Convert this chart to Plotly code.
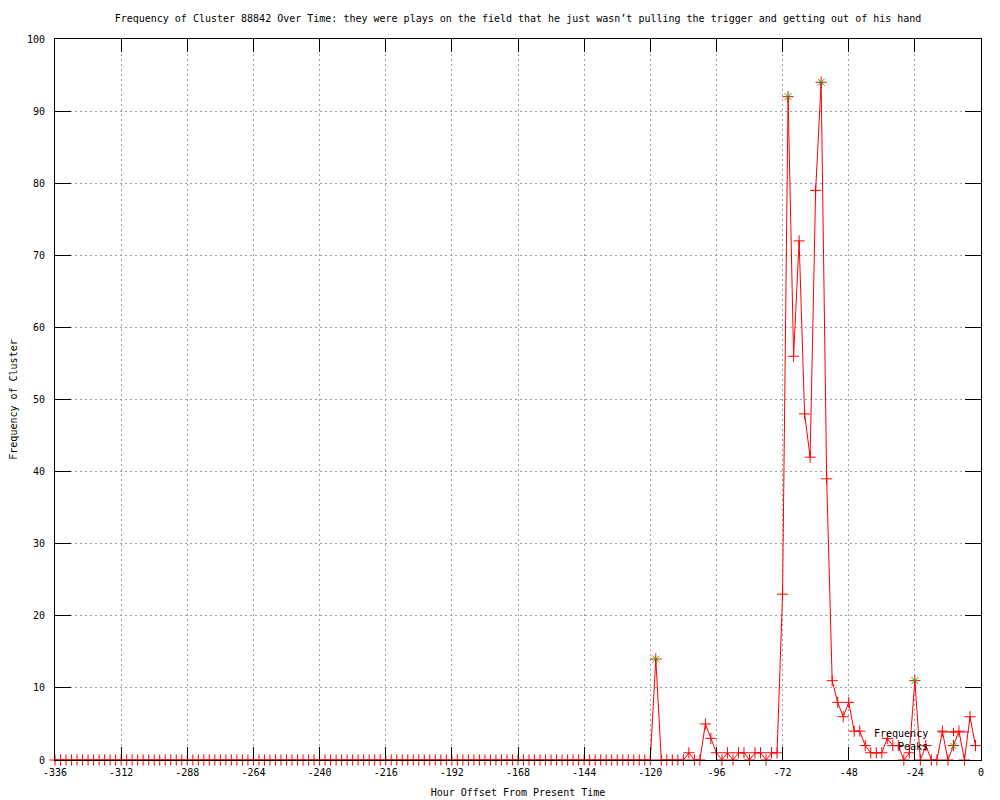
import plotly.graph_objects as go

# ---- data -------------------------------------------------------------
hours = list(range(-336, -1, 2))  # -336 .. -2 every 2 hours
early_zero_hours = [h for h in hours if h < -118]
late_values = [
    14, 0, 0, 0, 0, 0, 1, 0, 0, 5,      # -118 .. -100
    3, 1, 0, 1, 0, 1, 1, 0, 1, 1,       # -98 .. -80
    0, 1, 1, 23, 92, 56, 72, 48, 42, 79,  # -78 .. -60
    94, 39, 11, 8, 6, 8, 4, 4, 2, 1,    # -58 .. -40
    1, 1, 3, 2, 2, 0, 1, 11, 0, 2,      # -38 .. -20
    0, 0, 4, 0, 2, 4, 0, 6, 2,          # -18 .. -2
]
frequency = [0] * len(early_zero_hours) + late_values

peak_hours = [-118, -70, -58, -24]
peak_values = [14, 92, 94, 11]

x_tick_vals = list(range(-336, 1, 24))
x_tick_text = [str(v) for v in x_tick_vals]
y_tick_vals = list(range(0, 101, 10))

title_text = ("Frequency of Cluster 88842 Over Time: they were plays on the field "
              "that he just wasn\u2019t pulling the trigger and getting out of his hand")

# ---- layout geometry (pixels, as seen on screen) -----------------------
W, H = 1000, 800
L, R, T, B = 55, 981, 39, 760      # target plot-area edges on screen
OFF = 8                            # page offset of the figure (body margin)
FONT = "DejaVu Sans Mono"
RED = "#ff0000"
GREEN = "#00c000"

def px(xp):
    return (xp - L) / (R - L)

def py(yp):
    return (B - yp) / (B - T)

fig = go.Figure()
fig.add_trace(go.Scatter(
    x=hours, y=frequency, mode="lines+markers", name="Frequency",
    line=dict(color=RED, width=1),
    marker=dict(symbol="cross-thin", size=8, color=RED, line=dict(color=RED, width=1)),
    showlegend=False, cliponaxis=False,
))
fig.add_trace(go.Scatter(
    x=peak_hours, y=peak_values, mode="markers", name="Peaks",
    marker=dict(symbol="x-thin", size=7, color=GREEN, line=dict(color=GREEN, width=1)),
    showlegend=False, cliponaxis=False,
))

grid = dict(showgrid=True, gridcolor="#a0a0a0", gridwidth=1, griddash="2px,3px")

fig.update_layout(
    width=W, height=H,
    margin=dict(l=L - OFF, r=W - R + OFF, t=T - OFF, b=H - B + OFF, pad=0, autoexpand=False),
    paper_bgcolor="white", plot_bgcolor="white",
    font=dict(family=FONT, size=10, color="black"),
    title=dict(text=title_text, x=0.5, xref="paper", y=1 - (18 - OFF) / H, yref="container",
               xanchor="center", yanchor="middle", font=dict(family=FONT, size=10)),
    xaxis=dict(range=[-336, 0], tickvals=x_tick_vals, ticktext=x_tick_text,
               ticks="inside", ticklen=13, tickcolor="black", tickwidth=1,
               showline=True, linecolor="black", linewidth=1, mirror="ticks",
               zeroline=False, ticklabelstandoff=3, automargin=False,
               title=dict(text="Hour Offset From Present Time", standoff=11,
                          font=dict(family=FONT, size=10)),
               **grid),
    yaxis=dict(range=[0, 100], tickvals=y_tick_vals,
               ticks="inside", ticklen=16, tickcolor="black", tickwidth=1,
               showline=True, linecolor="black", linewidth=1, mirror="ticks",
               zeroline=False, ticklabelstandoff=7, automargin=False,
               title=dict(text="Frequency of Cluster", standoff=8,
                          font=dict(family=FONT, size=10)),
               **grid),
)

# ---- custom key (text left of sample, as in the reference) -------------
fig.add_annotation(text="Frequency", xref="paper", yref="paper", x=px(930), y=py(733),
                   xanchor="right", yanchor="middle", showarrow=False,
                   font=dict(family=FONT, size=10, color="black"))
fig.add_annotation(text="Peaks", xref="paper", yref="paper", x=px(930), y=py(746),
                   xanchor="right", yanchor="middle", showarrow=False,
                   font=dict(family=FONT, size=10, color="black"))
# Frequency sample: line with a plus in the middle
fig.add_shape(type="line", xref="paper", yref="paper", x0=px(938), x1=px(969),
              y0=py(732), y1=py(732), line=dict(color=RED, width=1))
cx, cy = 953.5, 732
fig.add_shape(type="line", xref="paper", yref="paper", x0=px(cx - 4), x1=px(cx + 4),
              y0=py(cy), y1=py(cy), line=dict(color=RED, width=1))
fig.add_shape(type="line", xref="paper", yref="paper", x0=px(cx), x1=px(cx),
              y0=py(cy - 4), y1=py(cy + 4), line=dict(color=RED, width=1))
# Peaks sample: green x
gx, gy = 953.5, 746
fig.add_shape(type="line", xref="paper", yref="paper", x0=px(gx - 3), x1=px(gx + 3),
              y0=py(gy - 3), y1=py(gy + 3), line=dict(color=GREEN, width=1))
fig.add_shape(type="line", xref="paper", yref="paper", x0=px(gx - 3), x1=px(gx + 3),
              y0=py(gy + 3), y1=py(gy - 3), line=dict(color=GREEN, width=1))

fig.write_html("out.html")
